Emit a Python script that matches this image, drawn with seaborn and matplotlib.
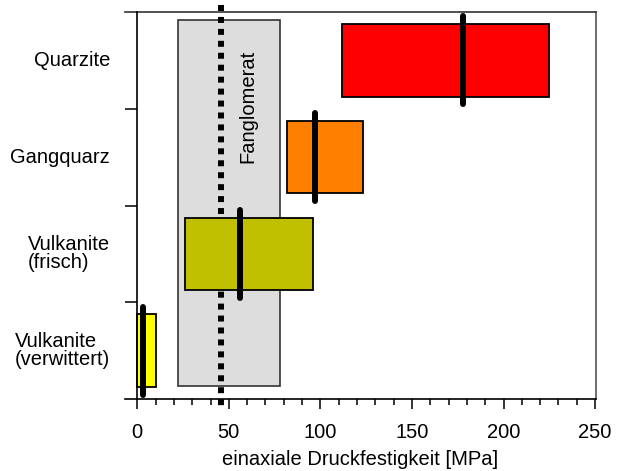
import matplotlib
matplotlib.use("Agg")
import matplotlib.pyplot as plt
import matplotlib.transforms as mtransforms
from matplotlib.ticker import MultipleLocator
import numpy as np
import seaborn as sns

# rock types, top to bottom
rocks = ["Quarzite", "Gangquarz", "Vulkanite\n(frisch)", "Vulkanite\n(verwittert)"]
ucs_min = [112, 82, 26, 0]
ucs_max = [225, 123, 96, 10]
ucs_median = [178, 97, 56, 3]
colors = ["#FF0000", "#FF8000", "#C0C000", "#FFFF00"]

# Fanglomerat range and its mean
fang_min = 22.5
fang_max = 78
fang_mean = 45.5

sns.set_theme(style="ticks")
plt.rcParams["font.family"] = ["Liberation Sans", "DejaVu Sans"]
plt.rcParams["text.color"] = "black"
plt.rcParams["axes.labelcolor"] = "black"
plt.rcParams["xtick.color"] = "black"
plt.rcParams["ytick.color"] = "black"

fig = plt.figure(figsize=(6.24, 4.71), dpi=100)
ax = fig.add_axes([125 / 624, 1 - 399 / 471, 471 / 624, 387 / 471])

ypos = np.arange(len(rocks))

# grey Fanglomerat box behind everything
ax.barh(1.475, fang_max - fang_min, height=3.783, left=fang_min,
        color="#DDDDDD", edgecolor="#333333", linewidth=1.2, zorder=1)
ax.text((fang_min + fang_max) / 2 + 10, 0.48, "Fanglomerat", rotation=90,
        ha="center", va="center", fontsize=14.5, color="black", zorder=2)

# dotted mean line of Fanglomerat
ax.plot([fang_mean, fang_mean], [-0.57, 3.57], color="black", lw=4.3,
        linestyle=(0, (1, 1)), solid_capstyle="butt", clip_on=False, zorder=3)

# rock ranges
ax.barh(ypos, np.array(ucs_max) - np.array(ucs_min), height=0.75, left=ucs_min,
        color=colors, edgecolor="black", linewidth=1.3, zorder=4)

# medians
ax.vlines(ucs_median, ypos - 0.455, ypos + 0.455, color="black", lw=4.3,
          capstyle="round", zorder=5)

ax.set_xlim(-6.7, 250.5)
ax.set_ylim(3.5, -0.5)

ax.xaxis.set_major_locator(MultipleLocator(50))
ax.xaxis.set_minor_locator(MultipleLocator(10))
ax.tick_params(axis="x", which="major", length=7.2, width=1.1, pad=10,
               labelsize=14.5, colors="black")
ax.tick_params(axis="x", which="minor", length=4.3, width=1.1, colors="black")

ax.set_yticks([0.5, 1.5, 2.5])
ax.set_yticklabels([])
ax.tick_params(axis="y", which="major", length=8.6, width=1.1, colors="black")

ax.spines["left"].set_position(("data", 0))
for side in ["left", "bottom", "top", "right"]:
    ax.spines[side].set_linewidth(1.2)
    ax.spines[side].set_color("black")
ax.spines["top"].set_color("#333333")
ax.spines["right"].set_color("#555555")
ax.spines["left"].set_zorder(6)

ax.set_xlabel("einaxiale Druckfestigkeit [MPa]", fontsize=14.5, labelpad=6,
              color="black")

# category labels left of the axis
trans = mtransforms.blended_transform_factory(fig.transFigure, ax.transData)
for y, name in zip(ypos, rocks):
    ax.text(110 / 624, y, name, transform=trans, ha="right", va="center",
            multialignment="left", fontsize=14.5, linespacing=0.95,
            color="black")

fig.savefig("out.png", dpi=100)
